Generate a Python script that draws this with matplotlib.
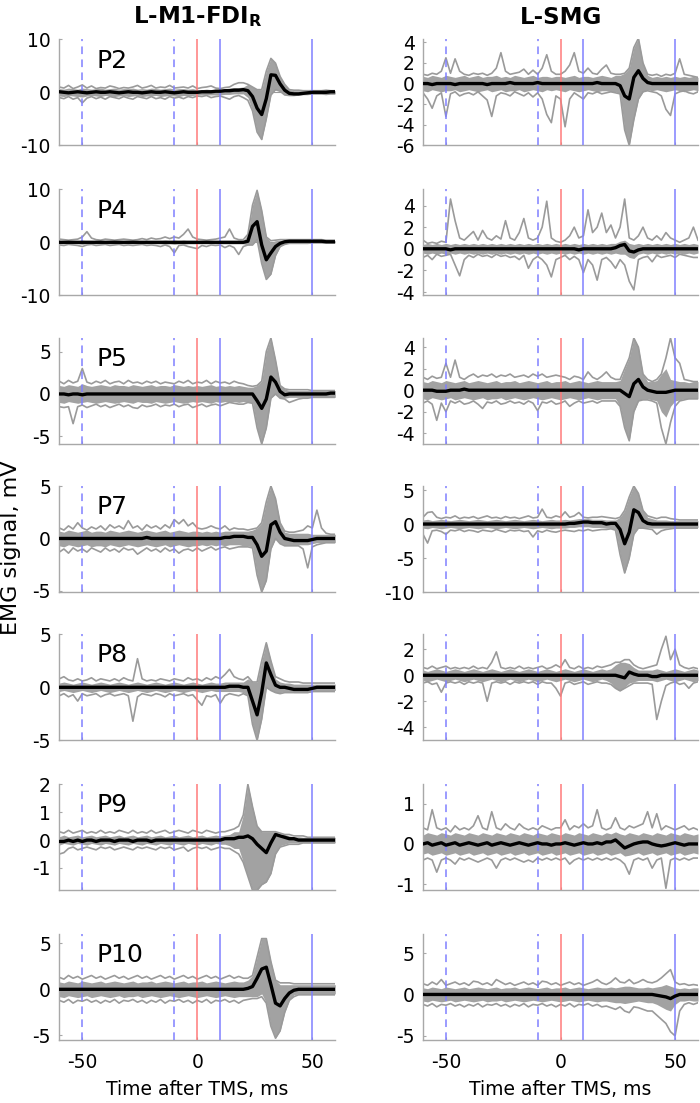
import numpy as np
import matplotlib
matplotlib.use("Agg")
import matplotlib.pyplot as plt

plt.rcParams['font.family'] = ['DejaVu Sans']
plt.rcParams['axes.unicode_minus'] = False

# time axis (ms after TMS), 2 ms sampling
t_ms = np.arange(-60, 61, 2)

# ---------------- P2 ----------------
p2_m1_mean = [0.1, 0.0, -0.1, 0.0, 0.1, 0.0, -0.1, 0.0, 0.1, 0.0,
              0.0, 0.1, 0.0, -0.1, 0.0, 0.1, 0.0, 0.0, -0.1, 0.0,
              0.1, 0.0, 0.0, 0.1, 0.0, -0.1, 0.0, 0.1, 0.0, 0.0,
              0.0, 0.1, 0.1, 0.1, 0.2, 0.2, 0.3, 0.3, 0.4, 0.4,
              0.5, 0.3, -0.8, -3.0, -4.2, -1.2, 3.3, 3.2, 1.6, 0.4,
              -0.2, -0.3, -0.3, -0.2, -0.1, 0.0, 0.0, 0.0, 0.0, 0.1,
              0.1]
p2_m1_hi = [0.7, 0.6, 0.8, 0.7, 0.6, 0.8, 0.7, 0.6, 0.7, 0.8,
            0.6, 0.7, 0.8, 0.6, 0.7, 0.7, 0.8, 0.6, 0.7, 0.6,
            0.8, 0.7, 0.6, 0.7, 0.8, 0.6, 0.7, 0.7, 0.6, 0.7,
            0.5, 0.5, 0.6, 0.5, 0.6, 0.6, 0.7, 0.8, 0.9, 0.9,
            1.0, 1.5, 1.0, 0.5, 0.5, 4.0, 6.4, 5.5, 3.0, 1.5,
            0.5, 0.3, 0.3, 0.3, 0.3, 0.3, 0.3, 0.3, 0.3, 0.3,
            0.3]
p2_m1_lo = [-0.7, -0.8, -0.6, -0.7, -0.8, -0.9, -0.7, -0.6, -0.7, -0.8,
            -0.6, -0.7, -0.8, -0.7, -0.6, -0.8, -0.7, -0.6, -0.8, -0.7,
            -0.7, -0.6, -0.8, -0.7, -0.6, -0.7, -0.8, -0.6, -0.7, -0.6,
            -0.5, -0.5, -0.5, -0.5, -0.5, -0.5, -0.4, -0.4, -0.3, -0.3,
            -0.3, -1.0, -3.5, -7.5, -8.9, -5.0, -0.5, 0.5, 0.2, -0.5,
            -0.5, -0.6, -0.5, -0.4, -0.3, -0.3, -0.3, -0.3, -0.3, -0.3,
            -0.3]
p2_m1_top = [1.0, 0.8, 1.3, 0.7, 1.0, 1.4, 0.8, 1.2, 0.7, 0.9,
             0.8, 1.2, 1.0, 0.7, 0.9, 0.8, 1.0, 1.3, 0.8, 1.0,
             1.3, 0.8, 1.0, 0.9, 1.3, 0.8, 0.9, 1.0, 0.8, 1.2,
             0.7, 0.9, 1.0, 1.2, 0.8, 0.7, 0.9, 1.0, 1.5, 1.8,
             1.8, 1.5, 1.0, 0.5, 0.5, 4.0, 6.4, 5.5, 3.0, 1.5,
             0.5, 0.4, 0.4, 0.3, 0.3, 0.3, 0.3, 0.3, 0.4, 0.3,
             0.3]
p2_m1_bot = [-1.0, -1.2, -0.8, -1.3, -1.0, -2.0, -1.1, -0.8, -1.2, -0.9,
             -1.3, -0.8, -1.0, -1.2, -0.8, -1.1, -1.3, -0.8, -1.0, -1.2,
             -0.8, -1.2, -1.0, -1.3, -0.8, -1.1, -0.9, -1.2, -0.8, -1.0,
             -0.7, -0.8, -0.6, -1.0, -0.8, -0.7, -1.0, -1.3, -0.8, -0.6,
             -1.0, -1.5, -3.5, -7.5, -8.9, -5.0, -0.5, 0.5, 0.2, -0.5,
             -0.6, -0.6, -0.5, -0.4, -0.4, -0.3, -0.3, -0.3, -0.4, -0.3,
             -0.3]

p2_smg_mean = [0.0, 0.0, -0.1, 0.0, 0.0, 0.0, 0.0, -0.1, 0.0, 0.0,
               0.0, 0.0, 0.0, 0.0, -0.1, 0.0, 0.0, 0.0, 0.0, 0.1,
               0.0, 0.0, 0.0, 0.0, 0.0, 0.1, 0.0, 0.0, 0.0, 0.0,
               0.0, 0.0, 0.0, 0.0, 0.0, 0.0, 0.0, 0.0, 0.1, 0.0,
               0.0, 0.0, 0.0, -0.2, -1.2, -1.5, 0.6, 1.25, 0.5, 0.1,
               0.0, 0.0, 0.0, 0.0, 0.0, 0.0, 0.0, 0.0, 0.0, 0.0,
               0.0]
p2_smg_hi = [0.7, 0.6, 0.8, 0.7, 0.6, 0.8, 0.7, 0.6, 0.7, 0.8,
             0.6, 0.7, 0.8, 0.6, 0.7, 0.7, 0.8, 0.6, 0.7, 0.6,
             0.8, 0.7, 0.6, 0.7, 0.8, 0.6, 0.7, 0.7, 0.6, 0.7,
             0.7, 0.6, 0.7, 0.8, 0.6, 0.7, 0.7, 0.6, 0.7, 0.8,
             0.7, 0.6, 0.8, 0.8, 1.0, 1.5, 3.5, 4.4, 2.0, 0.8,
             0.6, 0.7, 0.6, 0.7, 0.6, 0.7, 0.6, 0.7, 0.6, 0.7,
             0.6]
p2_smg_lo = [-0.7, -0.8, -0.6, -0.7, -0.8, -0.7, -0.7, -0.6, -0.8, -0.7,
             -0.6, -0.7, -0.8, -0.7, -0.6, -0.8, -0.7, -0.6, -0.8, -0.7,
             -0.7, -0.6, -0.8, -0.7, -0.6, -0.7, -0.8, -0.6, -0.7, -0.6,
             -0.7, -0.8, -0.6, -0.7, -0.8, -0.7, -0.6, -0.7, -0.8, -0.7,
             -0.7, -0.8, -0.8, -1.0, -4.5, -6.0, -3.5, -1.5, -0.8, -0.6,
             -0.7, -0.6, -0.7, -0.8, -0.7, -0.6, -0.7, -0.8, -0.7, -0.6,
             -0.7]
p2_smg_top = [0.9, 0.8, 1.0, 0.9, 1.2, 2.5, 1.0, 2.4, 1.2, 0.9,
              0.8, 1.0, 0.9, 1.0, 0.8, 1.0, 1.5, 3.0, 1.2, 0.9,
              1.0, 1.1, 1.4, 0.9, 1.3, 0.9, 1.5, 2.8, 1.2, 0.9,
              0.9, 1.2, 1.8, 3.0, 1.2, 1.0, 1.5, 1.0, 0.9, 1.4,
              1.8, 1.0, 0.9, 0.9, 1.0, 1.5, 3.5, 4.4, 2.0, 0.9,
              0.8, 0.9, 0.7, 0.9, 0.8, 1.0, 2.4, 0.9, 0.8, 0.7,
              0.6]
p2_smg_bot = [-0.9, -1.5, -2.4, -1.2, -0.9, -3.2, -1.0, -0.8, -1.2, -1.0,
              -0.9, -1.1, -0.8, -1.2, -1.6, -3.2, -1.2, -0.9, -1.0, -1.2,
              -0.8, -1.0, -1.2, -0.9, -1.3, -0.9, -1.5, -3.0, -3.8, -1.2,
              -1.5, -4.2, -1.5, -0.9, -1.2, -1.5, -0.9, -1.0, -0.8, -1.0,
              -0.9, -0.8, -0.9, -1.0, -4.5, -6.0, -3.5, -1.5, -0.8, -0.7,
              -0.8, -0.9, -1.2, -2.5, -3.1, -1.0, -0.8, -0.7, -0.9, -1.0,
              -0.8]

# ---------------- P4 ----------------
p4_m1_mean = [0.0, 0.0, 0.0, 0.0, 0.0, 0.0, 0.0, 0.0, 0.0, 0.0,
              0.0, 0.0, 0.0, 0.0, 0.0, 0.0, 0.0, 0.0, 0.0, 0.0,
              0.0, 0.0, 0.0, 0.0, 0.0, 0.0, 0.0, 0.0, 0.0, 0.0,
              0.0, 0.0, 0.0, 0.0, 0.0, 0.0, 0.0, 0.0, 0.0, 0.0,
              0.0, 0.2, 3.0, 3.9, -0.5, -3.3, -2.0, -0.8, -0.2, 0.1,
              0.2, 0.2, 0.2, 0.2, 0.2, 0.2, 0.2, 0.2, 0.1, 0.1,
              0.1]
p4_m1_hi = [0.3, 0.3, 0.3, 0.3, 0.3, 0.4, 0.3, 0.3, 0.3, 0.3,
            0.3, 0.3, 0.3, 0.3, 0.3, 0.3, 0.3, 0.3, 0.3, 0.3,
            0.3, 0.3, 0.3, 0.4, 0.3, 0.4, 0.3, 0.4, 0.3, 0.3,
            0.3, 0.3, 0.3, 0.3, 0.3, 0.3, 0.3, 0.3, 0.3, 0.3,
            0.3, 1.5, 7.0, 9.8, 6.0, 1.0, 0.0, 0.3, 0.4, 0.4,
            0.4, 0.4, 0.4, 0.4, 0.4, 0.4, 0.4, 0.4, 0.3, 0.3,
            0.3]
p4_m1_lo = [-0.3, -0.3, -0.3, -0.3, -0.3, -0.4, -0.3, -0.3, -0.3, -0.3,
            -0.3, -0.3, -0.3, -0.3, -0.3, -0.3, -0.3, -0.3, -0.3, -0.3,
            -0.3, -0.3, -0.3, -0.4, -0.3, -0.4, -0.3, -0.4, -0.3, -0.3,
            -0.3, -0.3, -0.3, -0.3, -0.3, -0.3, -0.3, -0.3, -0.3, -0.3,
            -0.3, -0.5, -0.5, 0.5, -4.0, -7.0, -6.0, -2.5, -0.8, -0.3,
            -0.1, -0.1, -0.1, -0.1, -0.1, -0.1, -0.1, -0.1, -0.1, -0.1,
            -0.1]
p4_m1_top = [0.6, 0.5, 0.4, 0.5, 0.6, 1.0, 2.0, 0.8, 0.5, 0.4,
             0.6, 0.5, 0.4, 0.5, 0.6, 0.5, 0.4, 0.5, 0.7, 0.5,
             0.8, 0.6, 0.7, 1.0, 0.7, 1.0, 0.8, 1.5, 2.5, 1.0,
             0.6, 0.5, 0.4, 0.5, 0.6, 0.8, 1.0, 2.5, 0.8, 0.5,
             0.5, 1.5, 7.0, 9.8, 6.0, 1.0, 0.3, 0.4, 0.5, 0.5,
             0.5, 0.5, 0.5, 0.5, 0.5, 0.5, 0.5, 0.5, 0.4, 0.4,
             0.4]
p4_m1_bot = [-0.5, -0.6, -0.4, -0.5, -0.6, -0.8, -0.5, -0.4, -0.6, -0.5,
             -0.4, -0.6, -0.5, -0.4, -0.6, -0.5, -0.6, -0.5, -0.4, -0.6,
             -0.5, -0.6, -0.8, -0.5, -0.8, -2.0, -0.6, -0.5, -0.8, -1.0,
             -1.2, -0.6, -0.8, -0.5, -0.6, -0.5, -1.0, -0.6, -1.0, -2.3,
             -0.8, -0.5, -0.5, 0.5, -4.0, -7.0, -6.0, -2.5, -0.8, -0.4,
             -0.2, -0.2, -0.2, -0.2, -0.2, -0.1, -0.1, -0.1, -0.1, -0.1,
             -0.1]

p4_smg_mean = [0.0, 0.0, 0.0, 0.0, 0.0, 0.0, -0.1, 0.0, 0.0, 0.0,
               0.0, 0.0, 0.0, 0.0, 0.0, 0.0, 0.0, 0.0, 0.0, 0.0,
               0.0, 0.0, 0.0, 0.0, 0.0, 0.0, 0.0, 0.0, 0.0, 0.0,
               0.0, 0.0, 0.0, 0.0, -0.1, 0.0, 0.0, 0.0, 0.0, 0.0,
               0.0, 0.0, 0.1, 0.3, 0.4, -0.2, -0.3, -0.1, 0.0, 0.0,
               0.0, 0.0, 0.0, 0.0, 0.0, 0.0, 0.0, 0.0, 0.0, 0.0,
               0.0]
p4_smg_hi = [0.4, 0.5, 0.4, 0.5, 0.4, 0.5, 0.4, 0.5, 0.4, 0.5,
             0.4, 0.5, 0.4, 0.5, 0.4, 0.5, 0.4, 0.5, 0.4, 0.5,
             0.4, 0.5, 0.4, 0.5, 0.4, 0.5, 0.4, 0.5, 0.4, 0.5,
             0.4, 0.5, 0.4, 0.5, 0.4, 0.5, 0.4, 0.5, 0.4, 0.5,
             0.4, 0.5, 0.5, 0.7, 0.8, 0.5, 0.4, 0.5, 0.4, 0.5,
             0.4, 0.5, 0.4, 0.5, 0.4, 0.5, 0.4, 0.5, 0.4, 0.5,
             0.4]
p4_smg_lo = [-0.4, -0.5, -0.4, -0.5, -0.4, -0.5, -0.4, -0.5, -0.4, -0.5,
             -0.4, -0.5, -0.4, -0.5, -0.4, -0.5, -0.4, -0.5, -0.4, -0.5,
             -0.4, -0.5, -0.4, -0.5, -0.4, -0.5, -0.4, -0.5, -0.4, -0.5,
             -0.4, -0.5, -0.4, -0.5, -0.4, -0.5, -0.4, -0.5, -0.4, -0.5,
             -0.4, -0.5, -0.4, -0.5, -0.5, -0.8, -0.9, -0.5, -0.4, -0.5,
             -0.4, -0.5, -0.4, -0.5, -0.4, -0.5, -0.4, -0.5, -0.4, -0.5,
             -0.4]
p4_smg_top = [0.8, 0.5, 0.6, 0.5, 0.7, 0.6, 4.6, 2.6, 1.0, 0.8,
              1.2, 1.6, 0.8, 1.7, 1.0, 0.8, 1.2, 0.9, 2.6, 1.0,
              0.8, 1.5, 2.8, 1.0, 0.8, 1.0, 2.0, 4.4, 1.0, 0.7,
              0.6, 0.8, 1.2, 2.0, 1.0, 1.2, 3.6, 1.5, 2.0, 3.3,
              1.5, 2.2, 1.0, 2.0, 4.6, 1.0, 0.8, 1.2, 2.0, 1.0,
              0.8, 1.2, 0.8, 1.5, 1.0, 0.8, 0.6, 0.8, 1.0, 2.0,
              0.8]
p4_smg_bot = [-0.8, -0.6, -1.0, -0.5, -0.7, -0.6, -0.5, -1.5, -2.5, -1.0,
              -0.6, -0.8, -0.5, -0.7, -0.6, -0.8, -0.5, -0.7, -0.6, -0.8,
              -0.7, -1.0, -0.6, -1.8, -1.0, -0.7, -1.0, -1.5, -2.6, -1.0,
              -0.8, -0.6, -1.0, -0.7, -1.0, -2.2, -1.0, -1.5, -2.9, -1.0,
              -0.8, -1.2, -1.8, -1.0, -1.5, -3.0, -3.8, -1.0, -0.8, -0.7,
              -1.2, -0.6, -0.8, -0.7, -0.6, -0.8, -0.5, -0.6, -0.7, -0.8,
              -0.8]

# ---------------- P5 ----------------
p5_m1_mean = [0.0, 0.0, -0.1, 0.0, 0.0, -0.1, 0.0, 0.0, 0.0, 0.0,
              0.0, 0.0, 0.0, 0.0, 0.0, 0.0, 0.0, 0.0, 0.0, 0.0,
              0.0, 0.0, 0.0, 0.0, 0.0, 0.0, 0.0, 0.0, 0.0, 0.0,
              0.0, 0.0, 0.0, 0.0, 0.0, 0.0, 0.0, 0.0, 0.0, 0.0,
              0.0, 0.0, 0.0, -0.8, -1.7, -0.6, 2.0, 1.4, 0.3, -0.1,
              0.0, 0.0, 0.0, 0.0, 0.0, 0.0, 0.0, 0.0, 0.0, 0.1,
              0.1]
p5_m1_hi = [1.0, 0.9, 1.1, 1.0, 0.9, 1.2, 1.0, 0.9, 1.0, 1.1,
            1.0, 0.9, 1.1, 1.0, 1.0, 0.9, 1.1, 1.0, 0.9, 1.0,
            1.1, 0.9, 1.0, 1.0, 0.9, 1.1, 1.0, 0.9, 1.0, 0.9,
            1.0, 0.9, 1.0, 1.1, 0.9, 1.0, 0.9, 1.0, 0.9, 1.0,
            0.9, 0.8, 0.8, 1.0, 1.5, 5.0, 6.6, 4.0, 1.0, 0.6,
            0.4, 0.4, 0.4, 0.4, 0.4, 0.4, 0.4, 0.4, 0.4, 0.4,
            0.4]
p5_m1_lo = [-1.0, -1.1, -0.9, -1.0, -1.1, -1.0, -0.9, -1.0, -1.1, -1.0,
            -0.9, -1.0, -1.1, -1.0, -0.9, -1.0, -1.1, -0.9, -1.0, -1.0,
            -1.1, -0.9, -1.0, -1.1, -1.0, -0.9, -1.0, -1.1, -1.0, -0.9,
            -1.0, -0.9, -1.0, -1.1, -0.9, -1.0, -0.9, -1.0, -0.9, -1.0,
            -0.9, -1.0, -1.0, -4.0, -5.9, -4.0, -0.5, 0.0, -0.5, -0.5,
            -0.4, -0.4, -0.4, -0.4, -0.4, -0.4, -0.4, -0.4, -0.4, -0.4,
            -0.4]
p5_m1_top = [1.5, 1.2, 1.6, 1.3, 1.5, 3.0, 1.4, 1.2, 1.5, 1.3,
             1.6, 1.2, 1.4, 1.5, 1.2, 1.6, 1.3, 1.4, 1.2, 1.5,
             1.3, 1.5, 1.2, 1.4, 1.3, 1.2, 1.5, 1.3, 1.6, 1.2,
             1.4, 1.3, 1.6, 1.2, 1.5, 1.3, 1.4, 1.2, 1.5, 1.3,
             1.2, 1.0, 0.9, 1.0, 1.5, 5.0, 6.6, 4.0, 1.0, 0.6,
             0.5, 0.5, 0.5, 0.5, 0.5, 0.4, 0.4, 0.4, 0.4, 0.4,
             0.4]
p5_m1_bot = [-1.5, -1.6, -1.5, -3.5, -1.5, -1.3, -1.6, -1.4, -1.2, -1.5,
             -1.3, -1.6, -1.4, -1.2, -1.5, -1.3, -1.6, -1.7, -1.3, -1.5,
             -1.4, -1.2, -1.5, -1.3, -1.4, -1.2, -1.5, -1.3, -1.2, -1.6,
             -1.4, -1.2, -1.5, -1.3, -1.2, -1.4, -1.2, -1.0, -1.1, -1.2,
             -1.2, -1.0, -1.1, -4.0, -5.9, -4.0, -0.5, 0.0, -0.5, -0.6,
             -1.0, -0.8, -0.6, -0.5, -0.5, -0.4, -0.4, -0.4, -0.4, -0.4,
             -0.4]

p5_smg_mean = [0.0, 0.0, 0.0, -0.1, -0.1, -0.1, 0.0, 0.0, 0.0, 0.1,
               0.0, 0.0, 0.0, 0.0, 0.0, 0.0, 0.0, 0.0, 0.0, 0.0,
               0.0, 0.0, 0.0, 0.0, 0.0, 0.0, 0.0, 0.0, 0.0, 0.0,
               0.0, 0.0, 0.0, 0.0, 0.0, 0.0, 0.0, 0.0, 0.0, 0.0,
               0.0, 0.0, 0.0, 0.0, -0.3, -0.6, 0.6, 1.0, 0.3, 0.0,
               -0.1, -0.2, -0.2, -0.2, -0.1, 0.0, 0.0, 0.0, 0.0, 0.0,
               0.0]
p5_smg_hi = [0.8, 0.7, 0.9, 0.8, 0.7, 0.9, 0.8, 0.7, 0.8, 0.9,
             0.7, 0.8, 0.9, 0.8, 0.7, 0.8, 0.9, 0.7, 0.8, 0.8,
             0.9, 0.7, 0.8, 0.9, 0.8, 0.7, 0.8, 0.9, 0.7, 0.8,
             0.8, 0.9, 0.7, 0.8, 0.9, 0.8, 0.7, 0.8, 0.9, 0.8,
             0.8, 0.8, 0.8, 0.9, 2.0, 3.0, 4.85, 4.0, 1.5, 0.8,
             0.8, 0.9, 1.5, 2.0, 1.0, 0.9, 0.8, 0.8, 0.7, 0.8,
             0.8]
p5_smg_lo = [-0.8, -0.9, -0.7, -0.8, -0.9, -0.8, -0.7, -0.9, -0.8, -0.7,
             -0.8, -0.9, -0.8, -0.7, -0.9, -0.8, -0.8, -0.7, -0.9, -0.8,
             -0.7, -0.8, -0.9, -0.8, -0.7, -0.8, -0.9, -0.8, -0.7, -0.8,
             -0.9, -0.8, -0.7, -0.8, -0.9, -0.8, -0.7, -0.8, -0.9, -0.8,
             -0.8, -0.8, -0.8, -1.5, -3.5, -4.7, -2.0, -1.0, -0.8, -0.8,
             -0.9, -1.0, -2.0, -2.5, -1.5, -1.0, -0.9, -0.8, -0.8, -0.8,
             -0.8]
p5_smg_top = [1.2, 1.0, 1.3, 1.1, 1.2, 2.5, 1.2, 2.8, 1.2, 1.0,
              1.3, 1.5, 1.2, 1.4, 1.3, 1.5, 1.2, 1.4, 1.3, 1.5,
              1.2, 1.3, 1.4, 1.2, 1.5, 1.3, 1.5, 1.2, 1.3, 1.4,
              1.3, 1.2, 1.0, 1.3, 1.2, 1.0, 1.7, 1.2, 1.0, 1.3,
              1.7, 1.2, 1.0, 1.0, 2.0, 3.0, 4.85, 4.0, 1.5, 1.0,
              0.8, 1.0, 1.5, 3.0, 4.85, 3.0, 2.5, 1.0, 0.9, 0.8,
              0.8]
p5_smg_bot = [-1.2, -1.0, -1.3, -2.8, -1.2, -2.0, -1.0, -1.2, -1.0, -1.3,
              -1.2, -1.0, -1.3, -1.7, -1.1, -1.2, -1.0, -1.3, -1.2, -1.0,
              -1.2, -1.1, -1.3, -1.0, -1.2, -1.9, -1.1, -1.2, -1.0, -1.3,
              -1.2, -1.0, -1.5, -1.2, -1.0, -1.2, -1.1, -1.0, -1.2, -1.0,
              -1.0, -1.0, -1.0, -1.5, -3.5, -4.7, -2.0, -1.0, -0.9, -0.9,
              -1.0, -1.2, -3.5, -5.0, -3.0, -1.5, -1.0, -0.9, -0.8, -0.8,
              -0.8]

# ---------------- P7 ----------------
p7_m1_mean = [0.0, 0.0, 0.0, 0.0, 0.0, 0.0, 0.0, 0.0, 0.0, 0.0,
              0.0, 0.0, 0.0, 0.0, 0.0, 0.0, 0.0, 0.0, 0.0, 0.1,
              0.0, 0.0, 0.0, 0.0, 0.0, 0.0, 0.0, 0.0, 0.0, 0.0,
              0.0, 0.0, 0.0, 0.0, 0.0, 0.0, 0.1, 0.1, 0.2, 0.2,
              0.2, 0.1, 0.1, -0.6, -1.7, -1.2, 1.3, 1.6, 0.6, 0.0,
              -0.1, -0.2, -0.2, -0.2, -0.2, -0.1, 0.0, 0.0, 0.0, 0.0,
              0.0]
p7_m1_hi = [0.7, 0.6, 0.8, 0.7, 0.6, 0.7, 0.8, 0.6, 0.7, 0.7,
            0.6, 0.8, 0.7, 0.6, 0.7, 0.8, 0.7, 0.6, 0.7, 0.8,
            0.7, 0.6, 0.7, 0.8, 0.6, 0.7, 0.8, 0.7, 0.6, 0.7,
            0.7, 0.6, 0.7, 0.6, 0.7, 0.6, 0.7, 0.7, 0.7, 0.7,
            0.7, 0.7, 0.8, 1.0, 1.5, 3.5, 5.0, 3.8, 1.5, 0.6,
            0.5, 0.5, 0.5, 0.5, 0.5, 0.4, 0.4, 0.4, 0.4, 0.4,
            0.4]
p7_m1_lo = [-0.7, -0.8, -0.6, -0.7, -0.8, -0.7, -0.6, -0.8, -0.7, -0.7,
            -0.8, -0.6, -0.7, -0.8, -0.7, -0.6, -0.7, -0.8, -0.7, -0.6,
            -0.7, -0.8, -0.7, -0.6, -0.8, -0.7, -0.6, -0.7, -0.8, -0.7,
            -0.7, -0.6, -0.7, -0.6, -0.7, -0.6, -0.7, -0.6, -0.6, -0.6,
            -0.7, -0.7, -0.8, -3.5, -5.1, -4.0, -1.0, 0.0, -0.5, -0.6,
            -0.6, -0.6, -0.6, -0.6, -0.6, -0.5, -0.4, -0.4, -0.4, -0.4,
            -0.4]
p7_m1_top = [1.0, 0.8, 1.2, 0.9, 1.5, 1.0, 0.8, 1.1, 0.9, 1.2,
             0.8, 1.3, 1.0, 1.2, 0.9, 1.7, 1.0, 1.2, 0.8, 1.3,
             1.0, 1.2, 0.9, 1.3, 1.0, 1.8, 1.4, 1.8, 1.2, 1.5,
             1.0, 0.9, 1.0, 1.2, 1.0, 0.9, 1.2, 0.8, 1.0, 0.9,
             0.9, 0.8, 0.9, 1.0, 1.5, 3.5, 5.0, 3.8, 1.5, 0.7,
             0.6, 0.6, 0.7, 0.8, 1.2, 1.0, 2.7, 1.0, 0.5, 0.4,
             0.4]
p7_m1_bot = [-1.3, -1.0, -1.4, -0.9, -1.2, -1.0, -1.3, -0.9, -1.1, -1.3,
             -0.9, -1.2, -1.0, -1.3, -0.9, -1.1, -1.0, -1.5, -1.2, -0.9,
             -1.2, -1.0, -1.3, -0.9, -1.2, -1.0, -1.4, -1.1, -1.0, -1.2,
             -0.9, -1.2, -1.0, -0.8, -1.1, -0.9, -0.8, -1.0, -0.9, -0.8,
             -0.8, -0.8, -0.9, -3.5, -5.1, -4.0, -1.0, 0.0, -0.5, -0.7,
             -0.7, -0.7, -0.7, -1.0, -2.8, -0.8, -0.6, -0.5, -0.4, -0.4,
             -0.4]

p7_smg_mean = [0.0, 0.0, 0.0, 0.0, 0.0, 0.0, 0.0, 0.0, 0.0, 0.0,
               0.0, 0.0, 0.0, 0.0, 0.0, 0.0, 0.0, 0.0, 0.0, 0.0,
               0.0, 0.0, 0.0, 0.0, 0.0, 0.0, 0.0, 0.0, 0.0, 0.0,
               0.0, 0.0, 0.1, 0.1, 0.2, 0.3, 0.3, 0.2, 0.2, 0.2,
               0.0, 0.1, 0.1, -0.8, -2.9, -1.2, 2.1, 1.7, 0.5, 0.1,
               0.0, 0.0, 0.0, 0.0, 0.0, 0.0, 0.0, 0.0, 0.0, 0.0,
               0.0]
p7_smg_hi = [0.6, 0.7, 0.5, 0.6, 0.7, 0.6, 0.5, 0.6, 0.7, 0.6,
             0.5, 0.6, 0.7, 0.6, 0.5, 0.6, 0.7, 0.6, 0.5, 0.6,
             0.7, 0.6, 0.5, 0.6, 0.7, 0.6, 0.5, 0.6, 0.7, 0.6,
             0.6, 0.7, 0.6, 0.7, 0.8, 0.8, 0.8, 0.7, 0.7, 0.7,
             0.6, 0.6, 0.6, 1.0, 2.0, 4.0, 5.6, 4.5, 2.0, 1.0,
             0.8, 0.6, 0.6, 0.6, 0.5, 0.5, 0.5, 0.5, 0.5, 0.5,
             0.5]
p7_smg_lo = [-0.6, -0.7, -0.5, -0.6, -0.7, -0.6, -0.5, -0.6, -0.7, -0.6,
             -0.5, -0.6, -0.7, -0.6, -0.5, -0.6, -0.7, -0.6, -0.5, -0.6,
             -0.7, -0.6, -0.5, -0.6, -0.7, -0.6, -0.5, -0.6, -0.7, -0.6,
             -0.6, -0.6, -0.5, -0.5, -0.4, -0.4, -0.4, -0.5, -0.5, -0.5,
             -0.6, -0.6, -0.8, -4.5, -7.2, -5.0, -1.5, -0.5, -0.5, -0.5,
             -0.6, -0.6, -0.6, -0.6, -0.5, -0.5, -0.5, -0.5, -0.5, -0.5,
             -0.5]
p7_smg_top = [1.0, 1.7, 1.8, 1.0, 0.8, 1.0, 0.9, 1.2, 0.8, 1.0,
              0.9, 1.1, 0.8, 1.0, 1.2, 0.9, 1.0, 0.8, 1.1, 0.9,
              1.0, 0.8, 1.0, 1.2, 0.9, 1.0, 2.2, 1.0, 0.9, 1.2,
              1.0, 1.8, 1.0, 1.2, 1.7, 1.0, 0.9, 1.0, 1.0, 1.1,
              1.0, 0.9, 0.8, 1.0, 2.0, 4.0, 5.6, 4.5, 2.0, 1.2,
              1.0, 0.8, 1.0, 1.0, 0.8, 0.7, 0.6, 0.6, 0.6, 0.6,
              0.6]
p7_smg_bot = [-1.5, -2.8, -1.0, -0.9, -1.1, -1.5, -0.9, -1.0, -0.8, -1.1,
              -0.9, -1.0, -1.2, -0.9, -1.0, -1.1, -0.8, -1.0, -1.2, -0.9,
              -1.0, -0.9, -1.1, -1.0, -1.9, -1.0, -1.2, -0.9, -1.1, -1.2,
              -1.0, -0.9, -1.0, -1.1, -0.9, -1.0, -0.8, -1.0, -0.9, -0.8,
              -0.8, -0.7, -0.9, -4.5, -7.2, -5.0, -1.5, -0.6, -0.6, -0.7,
              -0.8, -1.5, -1.0, -0.8, -0.7, -0.6, -0.6, -0.6, -0.6, -0.6,
              -0.6]

# ---------------- P8 ----------------
p8_m1_mean = [0.0, 0.0, 0.0, 0.0, 0.0, 0.0, 0.0, 0.0, 0.0, 0.0,
              0.0, 0.0, 0.0, 0.0, 0.0, 0.0, 0.0, 0.0, 0.0, 0.0,
              0.0, 0.0, 0.0, 0.0, 0.0, 0.0, 0.0, 0.0, 0.0, 0.0,
              0.0, 0.0, 0.0, 0.0, 0.0, 0.0, 0.0, 0.1, 0.1, 0.1,
              0.0, 0.0, -1.3, -2.6, -0.5, 2.3, 1.2, 0.2, 0.0, 0.0,
              -0.1, -0.2, -0.2, -0.2, -0.2, -0.1, 0.0, 0.0, 0.0, 0.0,
              0.0]
p8_m1_hi = [0.4, 0.5, 0.4, 0.3, 0.4, 0.5, 0.4, 0.3, 0.4, 0.5,
            0.4, 0.3, 0.4, 0.5, 0.4, 0.3, 0.4, 0.5, 0.4, 0.3,
            0.4, 0.5, 0.4, 0.3, 0.4, 0.5, 0.4, 0.3, 0.4, 0.5,
            0.4, 0.3, 0.4, 0.5, 0.4, 0.4, 0.5, 0.5, 0.5, 0.5,
            0.5, 0.8, 0.5, 0.5, 2.5, 4.2, 2.5, 0.8, 0.5, 0.4,
            0.4, 0.3, 0.3, 0.3, 0.3, 0.3, 0.3, 0.3, 0.3, 0.3,
            0.3]
p8_m1_lo = [-0.4, -0.3, -0.4, -0.5, -0.4, -0.3, -0.4, -0.5, -0.4, -0.3,
            -0.4, -0.5, -0.4, -0.3, -0.4, -0.5, -0.4, -0.3, -0.4, -0.5,
            -0.4, -0.3, -0.4, -0.5, -0.4, -0.3, -0.4, -0.5, -0.4, -0.3,
            -0.4, -0.5, -0.4, -0.3, -0.4, -0.4, -0.4, -0.4, -0.4, -0.4,
            -0.5, -0.8, -3.5, -5.0, -3.0, 0.0, -0.3, -0.5, -0.5, -0.4,
            -0.4, -0.5, -0.5, -0.5, -0.5, -0.4, -0.3, -0.3, -0.3, -0.3,
            -0.3]
p8_m1_top = [0.8, 1.0, 0.7, 0.6, 0.8, 0.6, 0.7, 0.9, 0.6, 0.8,
             0.7, 0.6, 0.8, 0.6, 0.9, 0.7, 0.6, 2.7, 0.8, 0.6,
             0.7, 0.6, 0.8, 0.7, 0.6, 0.8, 0.7, 0.6, 0.9, 0.7,
             0.8, 0.6, 0.9, 0.7, 1.0, 0.8, 1.2, 1.7, 1.0, 0.8,
             0.7, 1.0, 0.5, 0.5, 2.5, 4.2, 2.5, 1.0, 0.8, 0.6,
             0.5, 0.5, 0.5, 0.4, 0.4, 0.4, 0.4, 0.4, 0.4, 0.4,
             0.4]
p8_m1_bot = [-0.8, -0.6, -0.9, -0.7, -1.3, -0.6, -0.8, -0.7, -0.6, -0.9,
             -0.7, -0.6, -0.8, -0.7, -0.6, -0.8, -3.2, -0.9, -0.6, -0.7,
             -0.8, -0.6, -0.7, -0.9, -0.6, -0.8, -0.7, -0.6, -0.8, -0.7,
             -1.2, -1.7, -0.8, -0.9, -0.7, -1.5, -0.8, -0.6, -0.7, -0.8,
             -0.6, -0.8, -3.5, -5.0, -3.0, 0.0, -0.3, -0.5, -0.6, -0.5,
             -0.5, -0.5, -0.5, -0.5, -0.5, -0.4, -0.4, -0.4, -0.4, -0.4,
             -0.4]

p8_smg_mean = [0.0, 0.0, 0.0, 0.0, 0.0, 0.0, 0.0, 0.0, 0.0, 0.0,
               0.0, 0.0, 0.0, 0.0, 0.0, 0.0, 0.0, 0.0, 0.0, 0.0,
               0.0, 0.0, 0.0, 0.0, 0.0, 0.0, 0.0, 0.0, 0.0, 0.0,
               0.0, 0.0, 0.0, 0.0, 0.0, 0.0, 0.0, 0.0, 0.0, 0.0,
               0.0, 0.0, 0.0, -0.1, -0.2, 0.25, 0.1, 0.0, 0.0, 0.0,
               -0.1, -0.1, 0.0, 0.0, 0.0, 0.0, 0.0, 0.0, 0.0, 0.0,
               0.0]
p8_smg_hi = [0.4, 0.3, 0.4, 0.5, 0.4, 0.3, 0.4, 0.5, 0.4, 0.3,
             0.4, 0.5, 0.4, 0.3, 0.4, 0.5, 0.4, 0.3, 0.4, 0.5,
             0.4, 0.3, 0.4, 0.5, 0.4, 0.3, 0.4, 0.5, 0.4, 0.3,
             0.4, 0.5, 0.4, 0.3, 0.4, 0.5, 0.4, 0.3, 0.4, 0.5,
             0.4, 0.5, 0.8, 1.0, 1.0, 0.9, 0.6, 0.4, 0.4, 0.4,
             0.4, 0.5, 0.4, 0.3, 0.4, 0.5, 0.4, 0.3, 0.4, 0.5,
             0.4]
p8_smg_lo = [-0.4, -0.5, -0.4, -0.3, -0.4, -0.5, -0.4, -0.3, -0.4, -0.5,
             -0.4, -0.3, -0.4, -0.5, -0.4, -0.3, -0.4, -0.5, -0.4, -0.3,
             -0.4, -0.5, -0.4, -0.3, -0.4, -0.5, -0.4, -0.3, -0.4, -0.5,
             -0.4, -0.3, -0.4, -0.5, -0.4, -0.3, -0.4, -0.5, -0.4, -0.3,
             -0.4, -0.6, -1.0, -1.2, -0.9, -0.6, -0.5, -0.4, -0.4, -0.4,
             -0.4, -0.5, -0.4, -0.3, -0.4, -0.5, -0.4, -0.3, -0.4, -0.5,
             -0.4]
p8_smg_top = [0.6, 0.5, 0.7, 0.5, 0.6, 0.7, 0.5, 0.6, 0.5, 0.6,
              0.5, 0.7, 0.5, 0.6, 0.5, 1.0, 1.8, 0.6, 0.5, 0.6,
              0.5, 0.7, 0.5, 0.6, 0.5, 0.6, 0.7, 0.5, 0.6, 0.8,
              0.6, 1.2, 0.6, 0.5, 0.7, 0.5, 0.6, 0.5, 0.7, 0.6,
              0.7, 0.8, 1.0, 1.0, 1.2, 1.2, 0.8, 0.6, 0.5, 0.6,
              0.7, 0.8, 2.0, 3.0, 1.2, 2.0, 0.8, 0.6, 0.5, 0.6,
              0.5]
p8_smg_bot = [-0.6, -0.5, -0.7, -0.6, -1.3, -0.6, -0.5, -0.6, -0.5, -0.7,
              -0.5, -0.6, -0.5, -0.6, -2.0, -0.6, -0.5, -0.6, -0.5, -0.7,
              -0.5, -0.6, -0.5, -0.6, -0.5, -0.7, -0.5, -0.6, -0.6, -1.0,
              -1.6, -0.6, -0.5, -0.7, -0.6, -0.5, -0.7, -0.6, -0.5, -0.6,
              -0.6, -0.7, -1.0, -1.2, -1.0, -0.8, -0.6, -0.6, -0.6, -0.6,
              -0.7, -3.4, -2.0, -0.8, -0.6, -0.5, -0.7, -0.6, -1.0, -0.6,
              -0.5]

# ---------------- P9 ----------------
p9_m1_mean = [-0.05, -0.05, 0.0, -0.05, 0.0, -0.05, 0.0, 0.0, -0.05, 0.0,
              0.0, 0.0, -0.05, 0.0, 0.0, 0.0, -0.05, 0.0, 0.0, 0.0,
              -0.05, 0.0, 0.0, 0.0, 0.0, 0.0, 0.0, 0.0, 0.0, 0.0,
              0.0, 0.0, 0.0, 0.0, 0.0, 0.0, 0.05, 0.05, 0.05, 0.1,
              0.1, 0.15, 0.05, -0.15, -0.3, -0.45, -0.1, 0.2, 0.15, 0.1,
              0.05, 0.05, 0.0, 0.0, 0.0, 0.0, 0.0, 0.0, 0.0, 0.0,
              0.0]
p9_m1_hi = [0.12, 0.18, 0.12, 0.15, 0.18, 0.12, 0.15, 0.18, 0.12, 0.15,
            0.18, 0.12, 0.15, 0.18, 0.12, 0.15, 0.18, 0.12, 0.15, 0.18,
            0.12, 0.15, 0.18, 0.12, 0.15, 0.18, 0.12, 0.15, 0.18, 0.12,
            0.15, 0.18, 0.12, 0.15, 0.18, 0.15, 0.18, 0.2, 0.3, 0.3,
            0.9, 2.0, 1.2, 0.5, 0.3, 0.3, 0.3, 0.3, 0.2, 0.2,
            0.15, 0.12, 0.12, 0.1, 0.1, 0.1, 0.1, 0.1, 0.1, 0.1,
            0.1]
p9_m1_lo = [-0.18, -0.12, -0.15, -0.18, -0.12, -0.15, -0.18, -0.12, -0.15, -0.18,
            -0.12, -0.15, -0.18, -0.12, -0.15, -0.18, -0.12, -0.15, -0.18, -0.12,
            -0.15, -0.18, -0.12, -0.15, -0.18, -0.12, -0.15, -0.18, -0.12, -0.15,
            -0.18, -0.12, -0.15, -0.18, -0.12, -0.15, -0.15, -0.2, -0.3, -0.3,
            -0.8, -1.3, -1.8, -1.8, -1.6, -1.5, -1.2, -0.5, -0.2, -0.15,
            -0.1, -0.1, -0.1, -0.1, -0.1, -0.1, -0.1, -0.1, -0.1, -0.1,
            -0.1]
p9_m1_top = [0.3, 0.25, 0.35, 0.25, 0.3, 0.35, 0.25, 0.3, 0.25, 0.35,
             0.25, 0.3, 0.25, 0.35, 0.3, 0.25, 0.35, 0.25, 0.3, 0.25,
             0.35, 0.25, 0.3, 0.35, 0.25, 0.3, 0.35, 0.3, 0.25, 0.35,
             0.3, 0.25, 0.35, 0.3, 0.25, 0.3, 0.3, 0.35, 0.4, 0.5,
             0.9, 2.0, 1.2, 0.5, 0.3, 0.3, 0.3, 0.3, 0.25, 0.2,
             0.2, 0.15, 0.15, 0.15, 0.1, 0.1, 0.1, 0.1, 0.1, 0.1,
             0.1]
p9_m1_bot = [-0.5, -0.45, -0.3, -0.25, -0.35, -0.3, -0.25, -0.3, -0.35, -0.25,
             -0.3, -0.25, -0.35, -0.3, -0.25, -0.3, -0.35, -0.25, -0.3, -0.25,
             -0.3, -0.35, -0.25, -0.3, -0.25, -0.35, -0.3, -0.25, -0.4, -0.3,
             -0.25, -0.3, -0.25, -0.35, -0.3, -0.25, -0.3, -0.3, -0.4, -0.5,
             -0.8, -1.3, -1.8, -1.8, -1.6, -1.5, -1.2, -0.5, -0.25, -0.2,
             -0.15, -0.15, -0.15, -0.1, -0.1, -0.1, -0.1, -0.1, -0.1, -0.1,
             -0.1]

p9_smg_mean = [0.0, 0.03, -0.03, 0.0, 0.03, -0.03, 0.0, 0.03, -0.03, 0.0,
               0.03, 0.0, -0.03, 0.0, 0.03, -0.03, 0.0, 0.03, 0.0, -0.03,
               0.0, 0.03, 0.0, -0.03, 0.0, 0.03, 0.0, 0.0, -0.03, 0.0,
               0.0, 0.03, 0.0, -0.03, 0.0, 0.03, 0.0, 0.0, 0.03, 0.0,
               0.05, 0.05, 0.1, 0.0, -0.1, -0.05, 0.0, 0.03, 0.05, 0.05,
               0.0, -0.03, -0.05, -0.03, 0.0, 0.03, 0.0, -0.03, 0.0, 0.0,
               0.0]
p9_smg_hi = [0.22, 0.28, 0.25, 0.22, 0.28, 0.25, 0.22, 0.28, 0.25, 0.22,
             0.28, 0.25, 0.22, 0.28, 0.25, 0.22, 0.28, 0.25, 0.22, 0.28,
             0.25, 0.22, 0.28, 0.25, 0.22, 0.28, 0.25, 0.22, 0.28, 0.25,
             0.22, 0.28, 0.25, 0.22, 0.28, 0.25, 0.22, 0.28, 0.25, 0.22,
             0.28, 0.25, 0.3, 0.25, 0.22, 0.28, 0.25, 0.22, 0.28, 0.25,
             0.22, 0.28, 0.25, 0.22, 0.28, 0.25, 0.22, 0.28, 0.25, 0.22,
             0.25]
p9_smg_lo = [-0.25, -0.22, -0.28, -0.25, -0.22, -0.28, -0.25, -0.22, -0.28, -0.25,
             -0.22, -0.28, -0.25, -0.22, -0.28, -0.25, -0.22, -0.28, -0.25, -0.22,
             -0.28, -0.25, -0.22, -0.28, -0.25, -0.22, -0.28, -0.25, -0.22, -0.28,
             -0.25, -0.22, -0.28, -0.25, -0.22, -0.28, -0.25, -0.22, -0.28, -0.25,
             -0.22, -0.28, -0.25, -0.22, -0.3, -0.28, -0.25, -0.22, -0.28, -0.25,
             -0.22, -0.28, -0.25, -0.22, -0.28, -0.25, -0.22, -0.28, -0.25, -0.22,
             -0.25]
p9_smg_top = [0.4, 0.35, 0.85, 0.4, 0.35, 0.4, 0.3, 0.45, 0.35, 0.4,
              0.35, 0.45, 0.7, 0.4, 0.35, 0.8, 0.4, 0.35, 0.5, 0.4,
              0.35, 0.5, 0.4, 0.35, 0.4, 0.35, 0.45, 0.4, 0.35, 0.4,
              0.4, 0.6, 0.35, 0.45, 0.4, 0.5, 0.4, 0.45, 0.85, 0.4,
              0.35, 0.4, 0.65, 0.4, 0.35, 0.45, 0.4, 0.45, 0.5, 0.8,
              0.4, 0.75, 0.35, 0.45, 0.4, 0.35, 0.4, 0.45, 0.35, 0.4,
              0.35]
p9_smg_bot = [-0.4, -0.35, -0.4, -0.7, -0.4, -0.35, -0.4, -0.5, -0.35, -0.4,
              -0.35, -0.4, -0.45, -0.4, -0.35, -0.4, -0.6, -0.4, -0.35, -0.4,
              -0.35, -0.4, -0.45, -0.4, -0.45, -0.35, -0.4, -0.35, -0.4, -0.35,
              -0.4, -0.35, -0.5, -0.4, -0.35, -0.4, -0.35, -0.4, -0.35, -0.4,
              -0.35, -0.4, -0.35, -0.4, -0.5, -0.75, -0.4, -0.35, -0.4, -0.35,
              -0.6, -0.4, -0.35, -1.1, -0.4, -0.35, -0.4, -0.35, -0.4, -0.35,
              -0.35]

# ---------------- P10 ----------------
p10_m1_mean = [0.0, 0.0, 0.0, 0.0, 0.0, 0.0, 0.0, 0.0, 0.0, 0.0,
               0.0, 0.0, 0.0, 0.0, 0.0, 0.0, 0.0, 0.0, 0.0, 0.0,
               0.0, 0.0, 0.0, 0.0, 0.0, 0.0, 0.0, 0.0, 0.0, 0.0,
               0.0, 0.0, 0.0, 0.0, 0.0, 0.0, 0.0, 0.0, 0.0, 0.0,
               0.0, 0.1, 0.3, 1.2, 2.2, 2.4, 0.5, -1.5, -1.8, -1.0,
               -0.4, -0.1, 0.0, 0.0, 0.0, 0.0, 0.0, 0.0, 0.0, 0.0,
               0.0]
p10_m1_hi = [0.8, 0.7, 0.9, 0.8, 0.7, 0.9, 0.8, 0.7, 0.8, 0.9,
             0.7, 0.8, 0.9, 0.8, 0.7, 0.8, 0.9, 0.7, 0.8, 0.8,
             0.9, 0.7, 0.8, 0.9, 0.8, 0.7, 0.8, 0.9, 0.7, 0.8,
             0.8, 0.9, 0.7, 0.8, 0.9, 0.8, 0.7, 0.8, 0.9, 0.8,
             0.8, 1.0, 1.5, 3.5, 5.5, 5.5, 3.0, 1.0, 0.5, 0.5,
             0.5, 0.5, 0.5, 0.5, 0.5, 0.5, 0.5, 0.5, 0.5, 0.5,
             0.5]
p10_m1_lo = [-0.8, -0.9, -0.7, -0.8, -0.9, -0.8, -0.7, -0.9, -0.8, -0.7,
             -0.8, -0.9, -0.8, -0.7, -0.9, -0.8, -0.8, -0.7, -0.9, -0.8,
             -0.7, -0.8, -0.9, -0.8, -0.7, -0.8, -0.9, -0.8, -0.7, -0.8,
             -0.9, -0.8, -0.7, -0.8, -0.9, -0.8, -0.7, -0.8, -0.9, -0.8,
             -0.8, -0.8, -0.8, -0.8, -0.5, -1.5, -4.0, -5.3, -4.5, -2.5,
             -1.2, -0.6, -0.5, -0.5, -0.5, -0.5, -0.5, -0.5, -0.5, -0.5,
             -0.5]
p10_m1_top = [1.3, 1.1, 1.5, 1.2, 1.4, 1.1, 1.3, 1.5, 1.2, 1.4,
              1.1, 1.3, 1.5, 1.2, 1.4, 1.1, 1.3, 1.5, 1.2, 1.4,
              1.1, 1.3, 1.5, 1.2, 1.4, 1.1, 1.3, 1.5, 1.2, 1.4,
              1.1, 1.3, 1.5, 1.2, 1.4, 1.1, 1.3, 1.5, 1.2, 1.4,
              1.2, 1.2, 1.5, 3.5, 5.5, 5.5, 3.0, 1.0, 0.7, 0.7,
              0.7, 0.6, 0.6, 0.6, 0.6, 0.6, 0.6, 0.6, 0.6, 0.6,
              0.6]
p10_m1_bot = [-1.2, -1.4, -1.1, -1.5, -1.2, -1.3, -1.1, -1.4, -1.2, -1.5,
              -1.2, -1.4, -1.1, -1.5, -1.2, -1.3, -1.1, -1.4, -1.2, -1.5,
              -1.2, -1.4, -1.1, -1.5, -1.2, -1.3, -1.1, -1.4, -1.2, -1.5,
              -1.2, -1.4, -1.1, -1.5, -1.2, -1.3, -1.1, -1.4, -1.2, -1.5,
              -1.2, -1.1, -1.0, -1.0, -0.8, -1.5, -4.0, -5.3, -4.5, -2.5,
              -1.2, -0.8, -0.6, -0.6, -0.6, -0.6, -0.6, -0.6, -0.6, -0.6,
              -0.6]

p10_smg_mean = [0.0, 0.0, 0.0, 0.0, 0.0, 0.0, 0.0, 0.0, 0.0, 0.0,
                0.0, 0.0, 0.0, 0.0, 0.0, 0.0, 0.0, 0.0, 0.0, 0.0,
                0.0, 0.0, 0.0, 0.0, 0.0, 0.0, 0.0, 0.0, 0.0, 0.0,
                0.0, 0.0, 0.0, 0.0, 0.0, 0.0, 0.0, 0.0, 0.0, 0.0,
                0.0, 0.0, 0.0, 0.0, 0.0, 0.0, 0.0, 0.0, 0.0, 0.0,
                0.0, -0.1, -0.2, -0.3, -0.5, -0.2, 0.0, 0.0, 0.0, 0.0,
                0.0]
p10_smg_hi = [0.8, 0.7, 0.9, 0.8, 0.7, 0.9, 0.8, 0.7, 0.8, 0.9,
              0.7, 0.8, 0.9, 0.8, 0.7, 0.8, 0.9, 0.7, 0.8, 0.8,
              0.9, 0.7, 0.8, 0.9, 0.8, 0.7, 0.8, 0.9, 0.7, 0.8,
              0.8, 0.9, 0.7, 0.8, 0.9, 0.8, 0.7, 0.8, 0.9, 0.8,
              0.8, 0.9, 0.8, 0.9, 1.0, 1.0, 0.9, 0.8, 0.8, 0.9,
              0.8, 0.9, 1.0, 1.2, 1.0, 0.8, 0.7, 0.8, 0.7, 0.8,
              0.8]
p10_smg_lo = [-0.8, -0.9, -0.7, -0.8, -0.9, -0.8, -0.7, -0.9, -0.8, -0.7,
              -0.8, -0.9, -0.8, -0.7, -0.9, -0.8, -0.8, -0.7, -0.9, -0.8,
              -0.7, -0.8, -0.9, -0.8, -0.7, -0.8, -0.9, -0.8, -0.7, -0.8,
              -0.9, -0.8, -0.7, -0.8, -0.9, -0.8, -0.7, -0.8, -0.9, -0.8,
              -0.8, -0.9, -1.0, -1.0, -1.1, -1.0, -0.9, -0.8, -0.9, -1.0,
              -1.0, -1.2, -1.5, -1.8, -2.0, -1.2, -0.8, -0.8, -0.7, -0.8,
              -0.8]
p10_smg_top = [1.3, 1.1, 1.5, 1.2, 1.8, 1.1, 1.3, 1.5, 1.2, 1.4,
               1.1, 1.6, 1.5, 1.2, 1.4, 1.1, 1.8, 1.5, 1.2, 1.4,
               1.1, 1.3, 1.5, 1.2, 1.4, 1.1, 1.6, 1.5, 1.2, 1.4,
               1.1, 1.3, 1.5, 1.2, 1.4, 1.1, 1.3, 1.5, 1.8, 1.4,
               1.2, 1.5, 2.0, 1.5, 1.4, 1.8, 1.3, 1.5, 1.8, 1.5,
               1.4, 1.6, 2.0, 2.5, 3.0, 1.5, 1.2, 1.3, 1.1, 1.2,
               1.1]
p10_smg_bot = [-1.2, -1.4, -1.1, -1.5, -1.2, -1.3, -1.1, -1.4, -1.2, -1.5,
               -1.2, -1.4, -1.1, -1.5, -1.2, -1.3, -1.1, -1.4, -1.2, -1.5,
               -1.2, -1.4, -1.1, -1.5, -1.2, -1.3, -1.1, -1.4, -1.2, -1.5,
               -1.2, -1.4, -1.1, -1.5, -1.2, -1.3, -1.1, -1.4, -1.2, -1.5,
               -1.4, -1.6, -1.8, -1.5, -2.0, -2.2, -1.5, -1.6, -1.8, -2.0,
               -2.0, -2.5, -3.0, -3.5, -4.5, -5.0, -2.0, -1.2, -1.0, -1.2,
               -1.0]

# ---------------- panel metadata ----------------
participants = ['P2', 'P4', 'P5', 'P7', 'P8', 'P9', 'P10']
m1_ylims = [(-10, 10), (-10, 10), (-5.9, 6.6), (-5.1, 5.0), (-5, 5), (-1.8, 2.0), (-5.5, 6.0)]
m1_yticks = [[-10, 0, 10], [-10, 0, 10], [-5, 0, 5], [-5, 0, 5], [-5, 0, 5], [-1, 0, 1, 2], [-5, 0, 5]]
smg_ylims = [(-6, 4.3), (-4.3, 5.5), (-5, 4.85), (-10, 5.6), (-5, 3.15), (-1.15, 1.48), (-5.5, 7.3)]
smg_yticks = [[-6, -4, -2, 0, 2, 4], [-4, -2, 0, 2, 4], [-4, -2, 0, 2, 4], [-10, -5, 0, 5],
              [-4, -2, 0, 2], [-1, 0, 1], [-5, 0, 5]]
marker_dashed = [-50, -10]
marker_tms = [0]
marker_solid = [10, 50]
x_ticks = [-50, 0, 50]

m1_data = [
    (p2_m1_mean, p2_m1_hi, p2_m1_lo, p2_m1_top, p2_m1_bot),
    (p4_m1_mean, p4_m1_hi, p4_m1_lo, p4_m1_top, p4_m1_bot),
    (p5_m1_mean, p5_m1_hi, p5_m1_lo, p5_m1_top, p5_m1_bot),
    (p7_m1_mean, p7_m1_hi, p7_m1_lo, p7_m1_top, p7_m1_bot),
    (p8_m1_mean, p8_m1_hi, p8_m1_lo, p8_m1_top, p8_m1_bot),
    (p9_m1_mean, p9_m1_hi, p9_m1_lo, p9_m1_top, p9_m1_bot),
    (p10_m1_mean, p10_m1_hi, p10_m1_lo, p10_m1_top, p10_m1_bot),
]
smg_data = [
    (p2_smg_mean, p2_smg_hi, p2_smg_lo, p2_smg_top, p2_smg_bot),
    (p4_smg_mean, p4_smg_hi, p4_smg_lo, p4_smg_top, p4_smg_bot),
    (p5_smg_mean, p5_smg_hi, p5_smg_lo, p5_smg_top, p5_smg_bot),
    (p7_smg_mean, p7_smg_hi, p7_smg_lo, p7_smg_top, p7_smg_bot),
    (p8_smg_mean, p8_smg_hi, p8_smg_lo, p8_smg_top, p8_smg_bot),
    (p9_smg_mean, p9_smg_hi, p9_smg_lo, p9_smg_top, p9_smg_bot),
    (p10_smg_mean, p10_smg_hi, p10_smg_lo, p10_smg_top, p10_smg_bot),
]

W, H = 700, 1103
fig = plt.figure(figsize=(W / 100, H / 100), dpi=100)

row_tops = [39.3, 189.3, 338, 486, 634.3, 784.3, 934]
ax_h = 106
cols = [(59.3, 276), (423, 275)]

GREY = '#9a9a9a'
BAND = '#a2a2a2'
AXC = '#a8a8a8'
BLUE = '#8080ff'
RED = '#ff7a7a'


def draw(ax, series, ylim, yticks, bottom):
    mean, hi, lo, top, bot = [np.asarray(s, dtype=float) for s in series]
    ax.axhline(0, color=GREY, lw=0.8, zorder=1)
    ax.fill_between(t_ms, lo, hi, color=BAND, lw=0, zorder=2)
    ax.plot(t_ms, top, color=GREY, lw=1.2, zorder=2)
    ax.plot(t_ms, bot, color=GREY, lw=1.2, zorder=2)
    for x in marker_dashed:
        ax.axvline(x, color=BLUE, lw=1.1, ls=(0, (5, 3.5)), zorder=3)
    for x in marker_tms:
        ax.axvline(x, color=RED, lw=1.1, zorder=3)
    for x in marker_solid:
        ax.axvline(x, color=BLUE, lw=1.1, zorder=3)
    ax.plot(t_ms, mean, color='black', lw=2.4, zorder=4)
    ax.set_xlim(-60, 60)
    ax.set_ylim(*ylim)
    ax.set_yticks(yticks)
    ax.set_xticks(x_ticks)
    for side in ('top', 'right'):
        ax.spines[side].set_visible(False)
    for side in ('left', 'bottom'):
        ax.spines[side].set_color(AXC)
        ax.spines[side].set_linewidth(1.0)
    ax.tick_params(direction='in', length=2.5, color=AXC, labelsize=13.5)
    ax.tick_params(axis='y', pad=6)
    ax.tick_params(axis='x', pad=9)
    if bottom:
        ax.set_xlabel('Time after TMS, ms', fontsize=13.5, labelpad=6)
    else:
        ax.tick_params(axis='x', labelbottom=False)


for r in range(7):
    for c, (x0, w) in enumerate(cols):
        ax = fig.add_axes([x0 / W, 1 - (row_tops[r] + ax_h) / H, w / W, ax_h / H])
        if c == 0:
            draw(ax, m1_data[r], m1_ylims[r], m1_yticks[r], r == 6)
            ax.text(0.133, 0.80, participants[r], transform=ax.transAxes,
                    fontsize=18, va='center', ha='left')
        else:
            draw(ax, smg_data[r], smg_ylims[r], smg_yticks[r], r == 6)

fig.text((59.3 + 138) / W, 1 - 17 / H, r'L-M1-FDI$_{\mathbf{R}}$', ha='center', va='center',
         fontsize=16.5, fontweight='bold')
fig.text((423 + 137.5) / W, 1 - 17 / H, 'L-SMG', ha='center', va='center',
         fontsize=16.5, fontweight='bold')
fig.text(11 / W, 1 - 548 / H, 'EMG signal, mV', rotation=90, ha='center', va='center', fontsize=16)

fig.savefig('out.png', dpi=100)
